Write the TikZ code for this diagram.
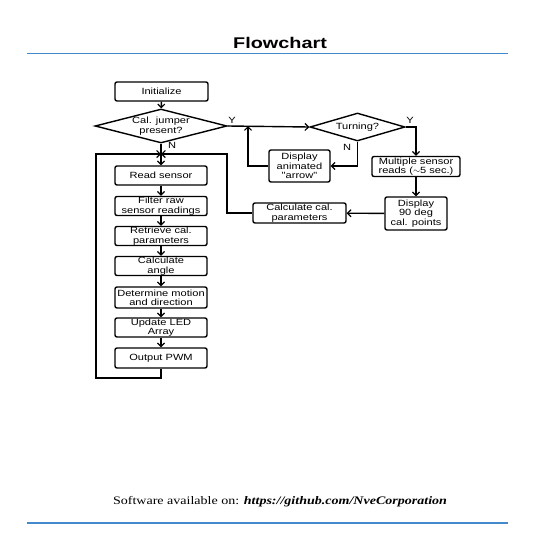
\documentclass[tikz,border=0pt]{standalone}
\usepackage{fontspec}
\usetikzlibrary{shapes.geometric,arrows.meta}
\newfontfamily\labfont[FakeStretch=1.23]{Liberation Sans}
\newfontfamily\titlefont[FakeStretch=1.28]{Liberation Sans}
\newfontfamily\footfont[FakeStretch=1.22]{Liberation Serif}
\definecolor{rule}{RGB}{66,138,204}
\begin{document}
\begin{tikzpicture}[x=1pt,y=-1pt,
  box/.style={draw,line width=1.4pt,rounded corners=2pt,inner sep=0pt,align=center,
    font=\labfont\fontsize{9}{9.4}\selectfont},
  dia/.style={draw,line width=1.4pt,diamond,inner sep=0pt,align=center,
    font=\labfont\fontsize{9}{9.4}\selectfont},
  lbl/.style={font=\labfont\fontsize{9}{9}\selectfont,inner sep=0pt},
  conn/.style={line width=1.4pt},
  arr/.style={conn,-{Straight Barb[length=3.5pt,width=7pt,line width=1.2pt]}}
]
\useasboundingbox (0,0) rectangle (560,560);
\fill[white] (0,0) rectangle (560,560);
% title and rules
\node[font=\titlefont\bfseries\fontsize{15.5}{16}\selectfont] (title) at (280,43) {Flowchart};
\draw[rule,line width=1.6pt] (27,53.5) coordinate (r1a) -- (508,53.5) coordinate (r1b);
\node[font=\footfont\fontsize{11.5}{12}\selectfont] (foot) at (280,502) {Software available on: \textbf{\textit{https://github.com/NveCorporation}}};
\draw[rule,line width=1.6pt] (27,523) coordinate (r2a) -- (508,523) coordinate (r2b);
% nodes
\node[box,minimum width=93pt,minimum height=19pt] (init) at (161.5,91.5) {Initialize};
\node[dia,minimum width=132pt,minimum height=34pt,aspect=3.9] (cal) at (161,126) {Cal. jumper\\present?};
\node[dia,minimum width=95pt,minimum height=28pt,aspect=3.4] (turn) at (357.5,127) {Turning?};
\node[box,minimum width=61pt,minimum height=32pt] (disp) at (299.5,166) {Display\\animated\\"arrow"};
\node[box,minimum width=88pt,minimum height=20pt] (multi) at (416,166.5) {Multiple sensor\\reads ($\sim$5 sec.)};
\node[box,minimum width=62pt,minimum height=33pt] (d90) at (416,213.5) {Display\\90 deg\\cal. points};
\node[box,minimum width=93pt,minimum height=20pt] (calc) at (299.5,213) {Calculate cal.\\parameters};
\node[box,minimum width=92pt,minimum height=19pt] (read) at (161,175.5) {Read sensor};
\node[box,minimum width=92pt,minimum height=19pt] (filt) at (161,206) {Filter raw\\sensor readings};
\node[box,minimum width=92pt,minimum height=19pt] (retr) at (161,236) {Retrieve cal.\\parameters};
\node[box,minimum width=92pt,minimum height=19pt] (ang) at (161,266) {Calculate\\angle};
\node[box,minimum width=92pt,minimum height=21pt] (det) at (161,297.5) {Determine motion\\and direction};
\node[box,minimum width=92pt,minimum height=19pt] (led) at (161,327.5) {Update LED\\Array};
\node[box,minimum width=92pt,minimum height=20pt] (pwm) at (161,358) {Output PWM};
% coordinates
\coordinate (junc) at (161,154);
\coordinate (jy) at (248,126);
\coordinate (lb1) at (161,378);
\coordinate (lb2) at (96,378);
\coordinate (lb3) at (96,154);
\coordinate (rc1) at (227,213);
\coordinate (rc2) at (227,154);
\coordinate (tn) at (357.5,166);
\coordinate (dl) at (248,166);
\coordinate (ty) at (416,127);
% labels
\node[lbl] (ylab1) at (232,120) {Y};
\node[lbl] (nlab1) at (172,145) {N};
\node[lbl] (ylab2) at (410,120) {Y};
\node[lbl] (nlab2) at (347,147) {N};
% connectors
\draw[arr] (init) -- (cal);
\draw[arr] (cal.east) -- (turn.west);
\draw[arr] (cal.south) -- (read.north);
\draw[arr] (pwm.south) -- (lb1) -- (lb2) -- (lb3) -- (junc);
\draw[arr] (calc.west) -- (rc1) -- (rc2) -- (junc);
\draw[arr] (turn.south) -- (tn) -- (disp.east);
\draw[arr] (disp.west) -- (dl) -- (jy);
\draw[arr] (turn.east) -- (ty) -- (multi.north);
\draw[arr] (multi) -- (d90);
\draw[arr] (d90) -- (calc);
\draw[arr] (read) -- (filt);
\draw[arr] (filt) -- (retr);
\draw[arr] (retr) -- (ang);
\draw[arr] (ang) -- (det);
\draw[arr] (det) -- (led);
\draw[arr] (led) -- (pwm);
\end{tikzpicture}
\end{document}
